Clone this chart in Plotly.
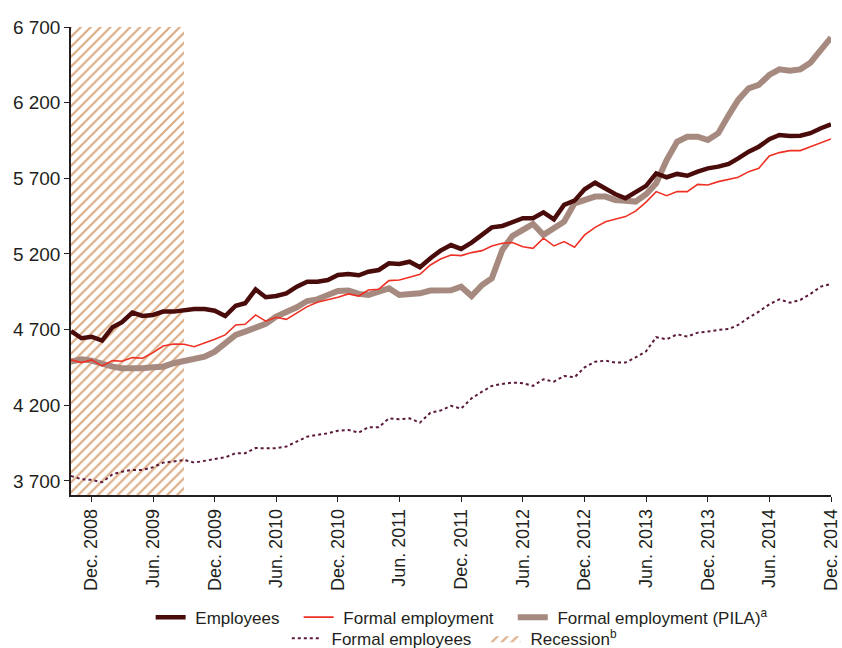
import pandas as pd
import plotly.graph_objects as go

months = pd.date_range("2008-10-01", "2014-12-01", freq="MS")

employees = [4690, 4643, 4653, 4627, 4716, 4749, 4812, 4790, 4797, 4819,
             4819, 4830, 4836, 4836, 4825, 4790, 4858, 4874, 4965, 4914,
             4922, 4940, 4984, 5017, 5017, 5028, 5061, 5068, 5059, 5083,
             5094, 5138, 5134, 5149, 5112, 5172, 5222, 5259, 5233, 5275,
             5326, 5376, 5385, 5407, 5436, 5436, 5475, 5429, 5524, 5552,
             5627, 5671, 5634, 5596, 5568, 5612, 5650, 5733, 5707, 5729,
             5717, 5744, 5766, 5777, 5795, 5832, 5876, 5909, 5958, 5986,
             5980, 5982, 5998, 6031, 6057]

formal_employment = [4500, 4482, 4500, 4460, 4495, 4491, 4515, 4511, 4548, 4592,
                     4605, 4603, 4587, 4610, 4636, 4665, 4731, 4735, 4797, 4756,
                     4782, 4768, 4812, 4852, 4881, 4896, 4914, 4936, 4922, 4962,
                     4967, 5024, 5028, 5046, 5066, 5127, 5167, 5193, 5189, 5209,
                     5222, 5253, 5271, 5275, 5248, 5237, 5304, 5253, 5282, 5244,
                     5326, 5376, 5413, 5429, 5447, 5483, 5543, 5612, 5585, 5612,
                     5612, 5660, 5656, 5678, 5694, 5707, 5744, 5766, 5848, 5870,
                     5883, 5883, 5909, 5935, 5960]

formal_pila = [4489, 4504, 4495, 4473, 4455, 4445, 4440, 4445, 4451, 4455,
               4478, 4495, 4504, 4521, 4554, 4610, 4665, 4687, 4709, 4738,
               4786, 4812, 4848, 4889, 4900, 4929, 4955, 4958, 4936, 4929,
               4951, 4973, 4929, 4933, 4940, 4958, 4962, 4960, 4984, 4922,
               4995, 5039, 5226, 5319, 5359, 5398, 5326, 5370, 5413, 5535,
               5561, 5579, 5579, 5557, 5552, 5546, 5595, 5667, 5821, 5942,
               5975, 5975, 5953, 5998, 6118, 6218, 6295, 6317, 6383, 6420,
               6411, 6420, 6464, 6553, 6630]

formal_employees = [3733, 3711, 3707, 3691, 3744, 3761, 3773, 3773, 3790, 3821,
                    3828, 3839, 3821, 3834, 3843, 3856, 3883, 3883, 3917, 3915,
                    3916, 3927, 3960, 3993, 4004, 4015, 4032, 4037, 4019, 4055,
                    4055, 4114, 4108, 4114, 4085, 4151, 4165, 4196, 4178, 4246,
                    4290, 4328, 4341, 4350, 4346, 4328, 4372, 4356, 4394, 4385,
                    4451, 4488, 4495, 4482, 4482, 4516, 4557, 4650, 4636, 4669,
                    4654, 4680, 4687, 4698, 4704, 4731, 4779, 4819, 4867, 4900,
                    4878, 4896, 4936, 4984, 5002]

recession_start = "2008-10-01"
recession_end = "2009-09-01"

y_min, y_max = 3607, 6700
y_tickvals = [3700, 4200, 4700, 5200, 5700, 6200, 6700]
y_ticktext = ["3 700", "4 200", "4 700", "5 200", "5 700", "6 200", "6 700"]

x_tickvals = ["2008-12-01", "2009-06-01", "2009-12-01", "2010-06-01", "2010-12-01",
              "2011-06-01", "2011-12-01", "2012-06-01", "2012-12-01", "2013-06-01",
              "2013-12-01", "2014-06-01", "2014-12-01"]
x_ticktext = ["Dec. 2008", "Jun. 2009", "Dec. 2009", "Jun. 2010", "Dec. 2010",
              "Jun. 2011", "Dec. 2011", "Jun. 2012", "Dec. 2012", "Jun. 2013",
              "Dec. 2013", "Jun. 2014", "Dec. 2014"]

FONT = "Liberation Sans, Arial, sans-serif"
SP = "\u00a0"

fig = go.Figure()

fig.add_trace(go.Scatter(
    x=[recession_start, recession_start, recession_end, recession_end, recession_start],
    y=[y_min, y_max, y_max, y_min, y_min],
    mode="lines", fill="toself", line=dict(width=0, color="rgba(0,0,0,0)"),
    fillcolor="white",
    fillpattern=dict(shape="/", fgcolor="#dcab83", bgcolor="white", fgopacity=1,
                     size=7, solidity=0.3),
    name=SP + "Recession<sup>b</sup>", legend="legend2", legendrank=2, hoverinfo="skip"))

fig.add_trace(go.Scatter(x=months, y=formal_employees, mode="lines",
                         line=dict(color="#5b1a3c", width=2, dash="dot"),
                         name=SP + "Formal employees" + SP * 2, legend="legend2", legendrank=1))

fig.add_trace(go.Scatter(x=months, y=formal_pila, mode="lines",
                         line=dict(color="#a6897f", width=6),
                         name=SP + "Formal employment (PILA)<sup>a</sup>", legendrank=3))

fig.add_trace(go.Scatter(x=months, y=formal_employment, mode="lines",
                         line=dict(color="#ee3124", width=1.6),
                         name=SP + "Formal employment" + SP * 3, legendrank=2))

fig.add_trace(go.Scatter(x=months, y=employees, mode="lines",
                         line=dict(color="#4a0b0b", width=4.5),
                         name=SP + "Employees" + SP * 3, legendrank=1))

fig.update_layout(
    width=842, height=648,
    margin=dict(l=71, r=11, t=27, b=153, autoexpand=False),
    paper_bgcolor="white", plot_bgcolor="white",
    font=dict(family=FONT, size=18, color="#231f20"),
    showlegend=True,
    legend=dict(orientation="h", x=0.514, xanchor="center", y=-0.262, yanchor="middle",
                font=dict(size=17), itemwidth=30, bgcolor="rgba(0,0,0,0)"),
    legend2=dict(orientation="h", x=0.505, xanchor="center", y=-0.307, yanchor="middle",
                 font=dict(size=17), itemwidth=30, bgcolor="rgba(0,0,0,0)"),
    xaxis=dict(type="date", range=["2008-10-01", "2014-12-01"], automargin=False,
               tickvals=x_tickvals, ticktext=x_ticktext, tickangle=-90,
               showgrid=False, zeroline=False, showline=True, linecolor="#231f20",
               linewidth=1.5, ticks="outside", ticklen=5, tickcolor="#231f20",
               tickfont=dict(size=18)),
    yaxis=dict(range=[y_min, y_max], tickvals=y_tickvals, ticktext=y_ticktext,
               automargin=False,
               showgrid=False, zeroline=False, showline=True, linecolor="#231f20",
               linewidth=1.5, ticks="outside", ticklen=5, tickcolor="#231f20",
               tickfont=dict(size=19)),
)

fig.write_html("out.html", config={"displayModeBar": False},
               post_script="document.body.style.margin='0';document.body.style.overflow='hidden';")
